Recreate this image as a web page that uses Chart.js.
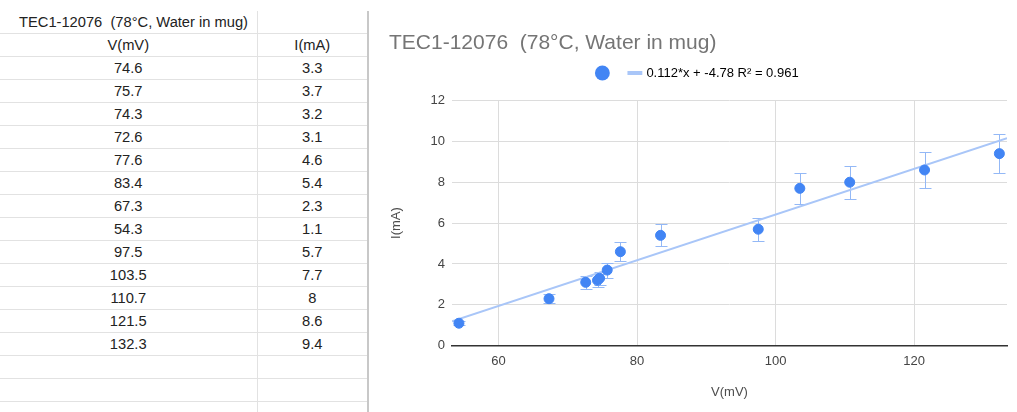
<!DOCTYPE html>
<html>
<head>
<meta charset="utf-8">
<script src="https://cdn.jsdelivr.net/npm/chart.js@4"></script>
<style>
  body { margin: 0; width: 1017px; height: 412px; overflow: hidden; background: #fff; font-family: Arial, "Liberation Sans", sans-serif; position: relative; }
  #sheet { position: absolute; left: 0; top: 11px; border-collapse: collapse; table-layout: fixed; width: 368px; }
  #sheet td { height: 22px; padding: 0; border-bottom: 1px solid #e2e2e2; font-size: 14.7px; color: #222; text-align: center; line-height: 22px; white-space: pre; overflow: visible; }
  #sheet td.c2 { border-left: 1px solid #e2e2e2; border-right: 2px solid #c8c8c8; }
  #sheet td.ttl { text-align: left; padding-left: 19px; }
  #chartBox { position: absolute; left: 370px; top: 0; }
</style>
</head>
<body>
<table id="sheet">
  <colgroup><col style="width:257px"><col style="width:111px"></colgroup>
  <tbody id="rows"></tbody>
</table>
<div id="chartBox"><canvas id="chart" width="647" height="412"></canvas></div>
<script>
const chartTitle = 'TEC1-12076  (78°C, Water in mug)';
const xTitle = 'V(mV)';
const yTitle = 'I(mA)';
const voltage = [74.6, 75.7, 74.3, 72.6, 77.6, 83.4, 67.3, 54.3, 97.5, 103.5, 110.7, 121.5, 132.3];
const current = [3.3, 3.7, 3.2, 3.1, 4.6, 5.4, 2.3, 1.1, 5.7, 7.7, 8, 8.6, 9.4];
const errorPercent = 10;
const trendSlope = 0.112;
const trendIntercept = -4.78;
const trendLabel = '0.112*x + -4.78 R² = 0.961';
const xMin = 53.3, xMax = 133.4;
const xTicks = [60, 80, 100, 120];
const yTicks = [0, 2, 4, 6, 8, 10, 12];

const pointColor = '#4285f4';
const trendColor = '#a9c6f8';
const errorColor = '#93b8f6';

// spreadsheet table
const rows = document.getElementById('rows');
function addRow(a, b, first) {
  const tr = document.createElement('tr');
  const td1 = document.createElement('td');
  const td2 = document.createElement('td');
  td1.textContent = a;
  td2.textContent = b;
  if (first) td1.className = 'ttl';
  td2.classList.add('c2');
  tr.appendChild(td1);
  tr.appendChild(td2);
  rows.appendChild(tr);
}
addRow(chartTitle, '', true);
addRow(xTitle, yTitle);
for (let i = 0; i < voltage.length; i++) {
  addRow(String(voltage[i]), String(current[i]));
}
for (let i = 0; i < 3; i++) addRow('', '');

Chart.defaults.font.family = 'Arial, "Liberation Sans", sans-serif';

const errorBars = {
  id: 'errorBars',
  beforeDatasetsDraw(chart) {
    const { ctx, scales: { x, y } } = chart;
    ctx.save();
    ctx.strokeStyle = errorColor;
    ctx.lineWidth = 1;
    voltage.forEach((v, i) => {
      const err = current[i] * errorPercent / 100;
      const px = Math.round(x.getPixelForValue(v)) + 0.5;
      const top = Math.round(y.getPixelForValue(current[i] + err)) + 0.5;
      const bot = Math.round(y.getPixelForValue(current[i] - err)) + 0.5;
      ctx.beginPath();
      ctx.moveTo(px, top); ctx.lineTo(px, bot);
      ctx.moveTo(px - 6, top); ctx.lineTo(px + 6, top);
      ctx.moveTo(px - 6, bot); ctx.lineTo(px + 6, bot);
      ctx.stroke();
    });
    ctx.restore();
  }
};

// leave some room between the legend and the plot
const legendGap = {
  id: 'legendGap',
  beforeInit(chart) {
    const fit = chart.legend.fit;
    chart.legend.fit = function () {
      fit.call(this);
      this.height += 11;
    };
  }
};

const chart = new Chart(document.getElementById('chart'), {
  type: 'scatter',
  data: {
    datasets: [
      {
        label: '',
        data: voltage.map((v, i) => ({ x: v, y: current[i] })),
        backgroundColor: pointColor,
        borderColor: pointColor,
        pointRadius: 5,
        pointBorderWidth: 1,
        order: 0
      },
      {
        label: trendLabel,
        type: 'line',
        data: [
          { x: xMin, y: trendSlope * xMin + trendIntercept },
          { x: xMax, y: trendSlope * xMax + trendIntercept }
        ],
        borderColor: trendColor,
        borderWidth: 2,
        pointRadius: 0,
        fill: false,
        order: 1
      }
    ]
  },
  options: {
    responsive: false,
    animation: false,
    layout: { padding: { left: 19, right: 10, top: 0, bottom: 0 } },
    plugins: {
      title: {
        display: true,
        text: chartTitle,
        align: 'start',
        color: '#757575',
        font: { size: 21, weight: 'normal', lineHeight: 0.7 },
        padding: { top: 35.6, bottom: 0.2 }
      },
      legend: {
        display: true,
        labels: {
          usePointStyle: true,
          boxWidth: 10,
          boxHeight: 10.5,
          padding: 16,
          color: '#222',
          font: { size: 13 },
          generateLabels: () => [
            { text: '', fillStyle: pointColor, strokeStyle: pointColor, lineWidth: 0, pointStyle: 'circle', datasetIndex: 0, hidden: false },
            { text: trendLabel, fillStyle: trendColor, strokeStyle: trendColor, lineWidth: 4, pointStyle: 'line', datasetIndex: 1, hidden: false }
          ]
        }
      },
      tooltip: { enabled: false }
    },
    scales: {
      x: {
        type: 'linear',
        min: xMin,
        max: xMax,
        afterFit: (s) => { s.height = 66.3; },
        afterBuildTicks: (s) => { s.ticks = xTicks.map(v => ({ value: v })); },
        ticks: { padding: 8, color: '#444', font: { size: 13 } },
        grid: { color: '#dcdcdc', drawTicks: false },
        border: { display: true, color: '#333', width: 1.5 },
        title: { display: true, text: xTitle, color: '#4d4d4d', font: { size: 13 }, padding: { top: 0, bottom: 12.2 } }
      },
      y: {
        min: 0,
        max: 12,
        afterFit: (s) => { s.width = 63; },
        afterBuildTicks: (s) => { s.ticks = yTicks.map(v => ({ value: v })); },
        ticks: { padding: 7, color: '#444', font: { size: 13 } },
        grid: { color: '#dcdcdc', drawTicks: false },
        border: { display: false },
        title: { display: true, text: yTitle, color: '#4d4d4d', font: { size: 13 }, padding: { top: 0, bottom: 0 } }
      }
    }
  },
  plugins: [errorBars, legendGap]
});
</script>
</body>
</html>
